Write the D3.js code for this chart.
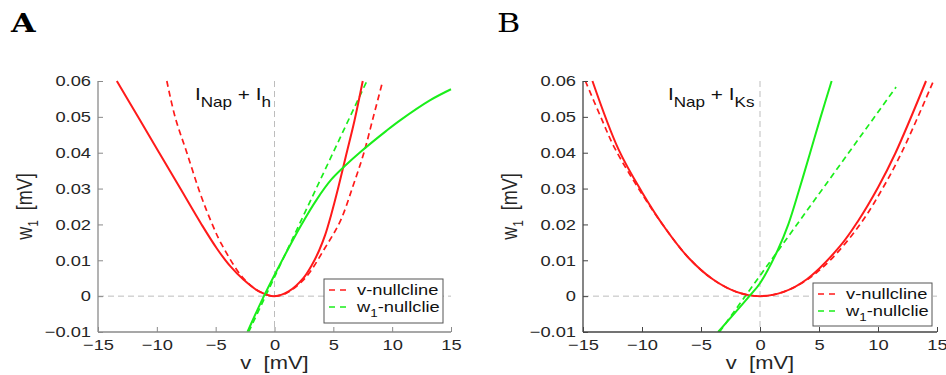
<!DOCTYPE html>
<html>
<head>
<meta charset="utf-8">
<script src="https://cdn.jsdelivr.net/npm/d3@7"></script>
<style>
  body { margin: 0; background: #fff; }
  svg { display: block; }
  text { font-family: "Liberation Sans", Arial, sans-serif; white-space: pre; }
</style>
</head>
<body>
<svg id="chart" width="946" height="375"></svg>
<script>
// Data, points are [v, w1]
let xTicks = [-15, -10, -5, 0, 5, 10, 15]
let yTicks = [-0.01, 0, 0.01, 0.02, 0.03, 0.04, 0.05, 0.06]
let legendLabels = ["v-nullcline", "w1-nullclie"]

// panel A : I_Nap + I_h
let aRedSolid = [[-13.4,0.06],[-11.6,0.05],[-9.8,0.04],[-8.0,0.03],[-6.2,0.02],[-4.9,0.0133],[-3.8,0.0085],[-2.6,0.0045],[-1.4,0.0015],[0,0],[1.2,0.0013],[2.45,0.005],[3.2,0.0088],[3.8,0.0128],[4.3,0.017],[4.8,0.0225],[5.4,0.03],[6.1,0.0395],[6.8,0.049],[7.5,0.06]]
let aRedDash = [[-9.15,0.06],[-8.45,0.05],[-7.45,0.04],[-6.3,0.0285],[-5.35,0.0205],[-4.5,0.0145],[-2.6,0.0048],[-1.0,0.0008],[0,0],[1.0,0.0008],[2.6,0.005],[4.3,0.0135],[5.6,0.021],[6.7,0.031],[7.6,0.04],[8.4,0.05],[9.2,0.06]]
let aGreenSolid = [[-2.3,-0.01],[-0.9,0],[1.1,0.0128],[2.3,0.02],[3.6,0.027],[4.8,0.0324],[5.95,0.0362],[7.3,0.0402],[9.5,0.0461],[10.7,0.0491],[13.2,0.0546],[15.0,0.0577]]
let aGreenDash = [[-2.2,-0.01],[7.85,0.06]]

// panel B : I_Nap + I_Ks
let bRedSolid = [[-14.2,0.06],[-12,0.041],[-10,0.029],[-8,0.0188],[-6,0.0105],[-4,0.0047],[-2,0.0012],[0,0],[2,0.0012],[4,0.0048],[6.8,0.014],[8.3,0.0209],[10,0.0303],[11.45,0.0397],[14.07,0.06]]
let bRedDash = [[-14.8,0.06],[-13.5,0.05],[-12.3,0.0412],[-10,0.0285],[-8,0.0188],[-6,0.0105],[-4,0.0047],[-2,0.0012],[0,0],[2,0.0012],[4,0.0046],[6,0.0102],[8.5,0.0201],[10.4,0.0301],[12.1,0.0407],[14.7,0.06]]
let bGreenSolid = [[-3.55,-0.01],[-0.9,0],[0,0.0036],[1.5,0.0128],[2.4,0.02],[3.35,0.03],[4.25,0.04],[5.1,0.0495],[6.07,0.06]]
let bGreenDash = [[-3.44,-0.01],[11.53,0.0583]]

let panels = [
  {letter: "A", bold: true, left: 98, right: 451, axisColor: "#8a8a8a",
   sub: "Nap", sub2: "h", textX: 195,
   red: aRedSolid, redDash: aRedDash, green: aGreenSolid, greenDash: aGreenDash,
   legend: {x: 324, y: 279, w: 119, h: 44}, letterX: 11},
  {letter: "B", bold: false, left: 583, right: 937, axisColor: "#444",
   sub: "Nap", sub2: "Ks", textX: 668,
   red: bRedSolid, redDash: bRedDash, green: bGreenSolid, greenDash: bGreenDash,
   legend: {x: 813, y: 283, w: 119, h: 43}, letterX: 497}
]

let plotTop = 81, plotBottom = 332
let S = 1.22 // text in the figure is stretched sideways
let RED = "#ff1a1a", GREEN = "#1aee1a"
let svg = d3.select("#chart")

let stretchedText = (parent, px, py, transformExtra) => {
  return parent.append("g").attr("transform", `translate(${px},${py}) scale(${S},1)${transformExtra || ""}`)
    .append("text")
}

panels.forEach((p, i) => {
  let x = d3.scaleLinear().domain([-15, 15]).range([p.left, p.right])
  let y = d3.scaleLinear().domain([-0.01, 0.06]).range([plotBottom, plotTop])
  let g = svg.append("g")

  // panel letter
  stretchedText(g, p.letterX, 32)
    .style("font-family", "'DejaVu Serif', 'Liberation Serif', serif")
    .style("font-size", "26px").style("font-weight", p.bold ? "bold" : "normal")
    .text(p.letter)

  // reference lines at v=0 and w=0
  g.append("line").attr("x1", x(0)).attr("x2", x(0)).attr("y1", plotTop).attr("y2", plotBottom)
    .attr("stroke", "#bdbdbd").attr("stroke-dasharray", "6,4")
  g.append("line").attr("x1", p.left).attr("x2", p.right).attr("y1", y(0)).attr("y2", y(0))
    .attr("stroke", "#bdbdbd").attr("stroke-dasharray", "6,4")

  // curves
  let clipId = "clip" + i
  svg.append("clipPath").attr("id", clipId).append("rect")
    .attr("x", p.left).attr("y", plotTop - 1).attr("width", p.right - p.left + 2).attr("height", plotBottom - plotTop + 1)
  let line = d3.line().x(d => x(d[0])).y(d => y(d[1])).curve(d3.curveCatmullRom.alpha(0.5))
  let curves = g.append("g").attr("clip-path", `url(#${clipId})`)
  let series = [
    {data: p.redDash, color: RED, dash: true},
    {data: p.greenDash, color: GREEN, dash: true},
    {data: p.red, color: RED, dash: false},
    {data: p.green, color: GREEN, dash: false}
  ]
  series.forEach(s => {
    curves.append("path").attr("d", line(s.data)).attr("fill", "none")
      .attr("stroke", s.color).attr("stroke-width", s.dash ? 1.7 : 2)
      .attr("stroke-dasharray", s.dash ? "6,4" : null)
  })

  // axes (matlab style, ticks inward)
  let xAxis = d3.axisBottom(x).tickValues(xTicks).tickSize(-5).tickFormat(d3.format("d"))
  let yAxis = d3.axisLeft(y).tickValues(yTicks).tickSize(-5).tickFormat(d => d === 0 ? "0" : d3.format(".2f")(d))
  let gx = g.append("g").attr("transform", `translate(0,${plotBottom})`).call(xAxis)
  let gy = g.append("g").attr("transform", `translate(${p.left},0)`).call(yAxis)
  ;[gx, gy].forEach(a => {
    a.select(".domain").attr("stroke", p.axisColor).attr("stroke-width", 1.3)
    a.selectAll(".tick line").attr("stroke", p.axisColor)
    a.selectAll(".tick text").attr("fill", "#262626").style("font-size", "15px")
      .style("font-family", "'Liberation Sans', Arial, sans-serif")
      .attr("transform", `scale(${S},1)`)
  })
  gx.select(".domain").attr("d", `M${p.left},0H${p.right}`)
  gy.select(".domain").attr("d", `M0,${plotBottom}V${plotTop}`)
  gx.selectAll(".tick text").attr("dy", "0.71em").attr("y", 7).attr("x", 0)
  gy.selectAll(".tick text").attr("x", -7 / S)

  // axis labels
  stretchedText(g, x(0), 369).attr("text-anchor", "middle")
    .style("font-size", "18px").attr("fill", "#262626").text("v  [mV]")
  let yl = stretchedText(g, p.left - 66, (plotTop + plotBottom) / 2, " rotate(-90)")
    .attr("text-anchor", "middle").style("font-size", "18px").attr("fill", "#262626")
  yl.append("tspan").text("w")
  yl.append("tspan").attr("dy", 5).style("font-size", "12px").text("1")
  yl.append("tspan").attr("dy", -5).text("  [mV]")

  // current annotation
  let t = stretchedText(g, p.textX, 100).style("font-size", "17px").attr("fill", "#111")
  t.append("tspan").text("I")
  t.append("tspan").attr("dy", 7).style("font-size", "14px").text(p.sub)
  t.append("tspan").attr("dy", -7).text(" + I")
  t.append("tspan").attr("dy", 7).style("font-size", "14px").text(p.sub2)

  // legend
  let L = p.legend
  let lg = g.append("g").attr("transform", `translate(${L.x},${L.y})`)
  lg.append("rect").attr("width", L.w).attr("height", L.h).attr("fill", "#fff").attr("stroke", "#555")
  ;[RED, GREEN].forEach((c, j) => {
    let yy = 11 + j * 17
    lg.append("line").attr("x1", 5).attr("x2", 25).attr("y1", yy).attr("y2", yy)
      .attr("stroke", c).attr("stroke-width", 1.7).attr("stroke-dasharray", "6,5")
    let lt = stretchedText(lg, 33, yy + 5).style("font-size", "15px").attr("fill", "#111")
    if (j === 0) lt.text(legendLabels[0])
    else {
      lt.append("tspan").text("w")
      lt.append("tspan").attr("dy", 5).style("font-size", "11px").text("1")
      lt.append("tspan").attr("dy", -5).text(legendLabels[1].slice(2))
    }
  })
})
</script>
</body>
</html>
